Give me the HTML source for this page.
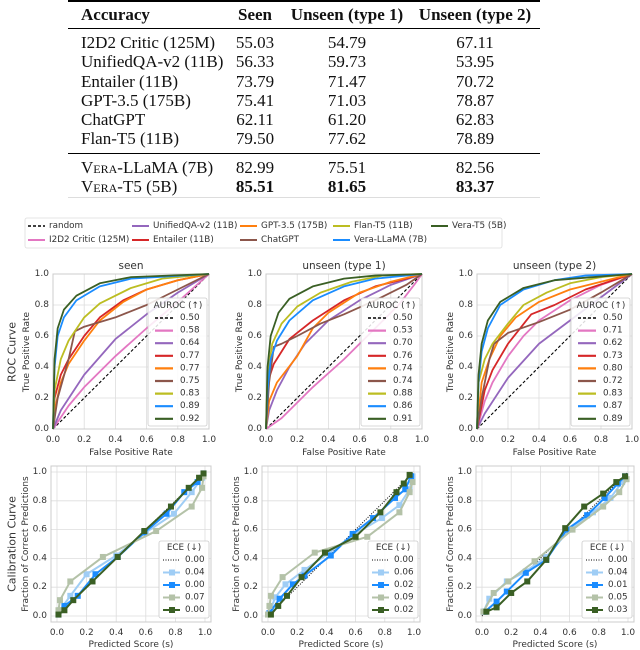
<!DOCTYPE html>
<html><head><meta charset="utf-8">
<style>
body{margin:0;background:#fff;width:640px;height:650px;overflow:hidden;position:relative;font-family:"Liberation Serif",serif;}
#tbl{position:absolute;left:0;top:0;width:640px;height:205px;}
.t{position:absolute;font-size:17px;color:#111;white-space:nowrap;line-height:17px;}
.rule{position:absolute;left:68px;width:472px;background:#000;}
.sc{font-variant:small-caps;}
svg{position:absolute;left:0;top:0;}
</style></head><body>
<div id="tbl">
<div class="rule" style="top:0px;height:2px"></div>
<div class="rule" style="top:28px;height:1px"></div>
<div class="rule" style="top:153px;height:1px"></div>
<div class="rule" style="top:197px;height:1px;background:#ddd"></div>
</div>
<svg id="fig" width="640" height="650"></svg>
<script>
// ---- table data ----
const tblModels=["I2D2 Critic (125M)","UnifiedQA-v2 (11B)","Entailer (11B)","GPT-3.5 (175B)","ChatGPT","Flan-T5 (11B)","VERA-LLaMA (7B)","VERA-T5 (5B)"];
const tblSeen=["55.03","56.33","73.79","75.41","62.11","79.50","82.99","85.51"];
const tblUn1=["54.79","59.73","71.47","71.03","61.20","77.62","75.51","81.65"];
const tblUn2=["67.11","53.95","70.72","78.87","62.83","78.89","82.56","83.37"];
const tblHead=["Accuracy","Seen","Unseen (type 1)","Unseen (type 2)"];

const tbl=document.getElementById('tbl');
function cell(txt,x,y,align,bold,name){
  const d=document.createElement('div');d.className='t';
  
  
  if(txt.startsWith('VERA')){d.innerHTML='<span class="sc">Vera</span>'+txt.slice(4);}else d.textContent=txt;
  d.style.top=(y-9)+'px';
  if(bold)d.style.fontWeight='bold';
  if(align==='c'){d.style.left=x+'px';d.style.transform='translateX(-50%)';}else d.style.left=x+'px';
  tbl.appendChild(d);
}
const colX=[81,255,347,475];
tblHead.forEach((h,i)=>cell(h,colX[i],15,i?'c':'l',true,'table-header-'+i));
const rowY=[43,62,82,101,120,139,168,187];
tblModels.forEach((m,i)=>{
  const last=i===7;
  cell(m,81,rowY[i],'l',false,'table-row-label');
  cell(tblSeen[i],255,rowY[i],'c',last,'table-seen-value');
  cell(tblUn1[i],347,rowY[i],'c',last,'table-unseen1-value');
  cell(tblUn2[i],475,rowY[i],'c',last,'table-unseen2-value');
});

// ---- chart data ----
const seriesNames=["random","I2D2 Critic (125M)","UnifiedQA-v2 (11B)","Entailer (11B)","GPT-3.5 (175B)","ChatGPT","Flan-T5 (11B)","Vera-LLaMA (7B)","Vera-T5 (5B)"];
const seriesColors=["#000","#e377c2","#9467bd","#d62728","#ff7f0e","#8c564b","#bcbd22","#1a8cff","#3a5f24"];
const panelTitles=["seen","unseen (type 1)","unseen (type 2)"];
const aurocSeen=["0.50","0.58","0.64","0.77","0.77","0.75","0.83","0.89","0.92"];
const aurocUn1=["0.50","0.53","0.70","0.76","0.74","0.74","0.88","0.86","0.91"];
const aurocUn2=["0.50","0.71","0.62","0.73","0.80","0.72","0.83","0.87","0.89"];
const rocSeen=[
 [[0,0],[1,1]],
 [[0,0],[0.1,0.15],[0.2,0.27],[0.4,0.47],[0.6,0.65],[0.8,0.82],[1,1]],
 [[0,0],[0.05,0.12],[0.2,0.35],[0.4,0.58],[0.6,0.74],[0.8,0.88],[1,1]],
 [[0,0],[0.01,0.2],[0.05,0.35],[0.1,0.45],[0.2,0.6],[0.3,0.72],[0.45,0.83],[0.6,0.9],[0.8,0.96],[1,1]],
 [[0,0],[0.01,0.12],[0.05,0.3],[0.1,0.42],[0.2,0.57],[0.3,0.7],[0.45,0.82],[0.6,0.9],[0.8,0.96],[1,1]],
 [[0,0],[0.03,0.2],[0.1,0.45],[0.14,0.63],[0.2,0.66],[0.4,0.72],[0.6,0.8],[0.8,0.9],[1,1]],
 [[0,0],[0.01,0.25],[0.05,0.45],[0.1,0.57],[0.2,0.72],[0.3,0.81],[0.5,0.91],[0.7,0.97],[1,1]],
 [[0,0],[0.01,0.4],[0.03,0.6],[0.07,0.72],[0.15,0.83],[0.3,0.92],[0.5,0.97],[1,1]],
 [[0,0],[0.01,0.45],[0.03,0.65],[0.07,0.77],[0.15,0.86],[0.3,0.94],[0.5,0.98],[1,1]]
];
const rocUn1=[
 [[0,0],[1,1]],
 [[0,0],[0.1,0.07],[0.2,0.17],[0.3,0.27],[0.5,0.45],[0.7,0.65],[0.85,0.8],[0.95,0.93],[1,1]],
 [[0,0],[0.02,0.12],[0.07,0.25],[0.15,0.4],[0.25,0.55],[0.4,0.7],[0.6,0.83],[0.8,0.93],[1,1]],
 [[0,0],[0.01,0.3],[0.05,0.42],[0.15,0.58],[0.3,0.7],[0.5,0.83],[0.7,0.92],[0.9,0.97],[1,1]],
 [[0,0],[0.02,0.18],[0.07,0.3],[0.2,0.47],[0.3,0.65],[0.4,0.75],[0.6,0.88],[0.8,0.95],[1,1]],
 [[0,0],[0.02,0.3],[0.05,0.53],[0.1,0.55],[0.2,0.6],[0.35,0.68],[0.5,0.74],[0.7,0.83],[0.9,0.93],[1,1]],
 [[0,0],[0.01,0.35],[0.04,0.55],[0.1,0.68],[0.2,0.79],[0.35,0.88],[0.55,0.95],[0.75,0.99],[1,1]],
 [[0,0],[0.01,0.25],[0.03,0.45],[0.07,0.57],[0.15,0.7],[0.3,0.83],[0.5,0.92],[0.7,0.97],[1,1]],
 [[0,0],[0.01,0.4],[0.03,0.6],[0.08,0.75],[0.15,0.84],[0.3,0.92],[0.5,0.97],[0.7,0.99],[1,1]]
];
const rocUn2=[
 [[0,0],[1,1]],
 [[0,0],[0.05,0.18],[0.1,0.3],[0.2,0.47],[0.3,0.6],[0.4,0.7],[0.6,0.83],[0.8,0.93],[1,1]],
 [[0,0],[0.05,0.1],[0.2,0.33],[0.4,0.55],[0.6,0.7],[0.8,0.85],[1,1]],
 [[0,0],[0.05,0.25],[0.1,0.38],[0.2,0.55],[0.35,0.74],[0.5,0.8],[0.7,0.9],[1,1]],
 [[0,0],[0.03,0.3],[0.08,0.45],[0.15,0.6],[0.25,0.72],[0.4,0.82],[0.6,0.9],[1,1]],
 [[0,0],[0.03,0.2],[0.08,0.45],[0.11,0.55],[0.2,0.62],[0.4,0.69],[0.6,0.77],[0.8,0.88],[1,1]],
 [[0,0],[0.01,0.3],[0.05,0.45],[0.1,0.55],[0.2,0.68],[0.3,0.8],[0.45,0.88],[0.6,0.94],[0.8,0.98],[1,1]],
 [[0,0],[0.01,0.3],[0.03,0.5],[0.07,0.65],[0.15,0.8],[0.3,0.9],[0.5,0.96],[0.7,0.99],[1,1]],
 [[0,0],[0.01,0.35],[0.03,0.55],[0.07,0.7],[0.15,0.82],[0.3,0.91],[0.5,0.96],[1,1]]
];
const calNames=["perfect","Vera-LLaMA uncalibrated","Vera-LLaMA calibrated","Vera-T5 uncalibrated","Vera-T5 calibrated"];
const calColors=["#000","#9fcdf5","#1a8cff","#b4c2a8","#3a5f24"];
const eceSeen=["0.00","0.04","0.00","0.07","0.00"];
const eceUn1=["0.00","0.06","0.02","0.09","0.02"];
const eceUn2=["0.00","0.04","0.01","0.05","0.03"];
const calSeen=[
 [[0,0],[1,1]],
 [[0.02,0.04],[0.09,0.14],[0.2,0.29],[0.4,0.42],[0.6,0.58],[0.79,0.71],[0.91,0.86],[0.98,0.96]],
 [[0.01,0.01],[0.05,0.07],[0.14,0.14],[0.26,0.29],[0.41,0.41],[0.59,0.58],[0.74,0.71],[0.86,0.86],[0.95,0.93],[0.99,0.99]],
 [[0.01,0.04],[0.02,0.11],[0.09,0.24],[0.31,0.41],[0.67,0.59],[0.91,0.76],[0.98,0.89],[0.99,0.97]],
 [[0.01,0.01],[0.05,0.04],[0.11,0.11],[0.24,0.24],[0.41,0.41],[0.59,0.59],[0.77,0.76],[0.89,0.89],[0.96,0.96],[0.99,0.99]]
];
const calUn1=[
 [[0,0],[1,1]],
 [[0.02,0.05],[0.05,0.13],[0.12,0.22],[0.25,0.32],[0.42,0.44],[0.58,0.56],[0.78,0.68],[0.9,0.77],[0.97,0.88],[0.99,0.97]],
 [[0.01,0.02],[0.08,0.12],[0.17,0.22],[0.25,0.28],[0.43,0.42],[0.58,0.57],[0.72,0.68],[0.87,0.82],[0.94,0.88],[0.98,0.97]],
 [[0.0,0.01],[0.01,0.07],[0.02,0.14],[0.1,0.27],[0.32,0.44],[0.68,0.55],[0.9,0.72],[0.97,0.86],[0.99,0.93]],
 [[0.02,0.01],[0.07,0.07],[0.13,0.14],[0.23,0.27],[0.39,0.44],[0.6,0.55],[0.77,0.72],[0.88,0.86],[0.93,0.92],[0.97,0.98]]
];
const calUn2=[
 [[0,0],[1,1]],
 [[0.01,0.03],[0.05,0.12],[0.17,0.24],[0.3,0.31],[0.44,0.41],[0.6,0.6],[0.76,0.72],[0.88,0.82],[0.96,0.93]],
 [[0.02,0.03],[0.1,0.1],[0.17,0.17],[0.3,0.3],[0.44,0.39],[0.58,0.6],[0.72,0.7],[0.84,0.82],[0.93,0.92],[0.98,0.97]],
 [[0.01,0.03],[0.08,0.16],[0.18,0.24],[0.36,0.38],[0.62,0.6],[0.83,0.76],[0.94,0.86],[0.99,0.95]],
 [[0.03,0.03],[0.1,0.06],[0.2,0.16],[0.31,0.24],[0.44,0.39],[0.57,0.61],[0.7,0.76],[0.83,0.85],[0.92,0.93],[0.98,0.97]]
];
const tickLabels=["0.0","0.2","0.4","0.6","0.8","1.0"];
const tickVals=[0,0.2,0.4,0.6,0.8,1.0];

const NS="http://www.w3.org/2000/svg";
const svg=document.getElementById('fig');
const F='"DejaVu Sans","Liberation Sans",sans-serif';
function el(tag,attrs,parent){const e=document.createElementNS(NS,tag);for(const k in attrs)e.setAttribute(k,attrs[k]);(parent||svg).appendChild(e);return e;}
function txt(s,x,y,size,anchor,parent,rot){const t=el('text',{x:x,y:y,'font-size':size,'font-family':F,fill:'#333','text-anchor':anchor||'middle','dominant-baseline':'central'},parent);if(rot)t.setAttribute('transform',`rotate(-90 ${x} ${y})`);t.textContent=s;return t;}

// legend
const lg=el('g',{});


el('rect',{x:25,y:218,width:477,height:30,fill:'#fff',stroke:'#ddd','stroke-width':0.8,rx:2},lg);
const legPos=[[28,226],[28,240],[132,226],[132,240],[240,226],[240,240],[333,226],[333,240],[431,226]];
seriesNames.forEach((n,i)=>{
  const [x,y]=legPos[i];
  const g=el('g',{},lg);
  
  
  const ln=el('line',{x1:x,y1:y,x2:x+17,y2:y,stroke:seriesColors[i],'stroke-width':i?2:1.5},g);
  if(i===0)ln.setAttribute('stroke-dasharray','3,2');
  txt(n,x+21,y,8.8,'start',g);
});

function axes(g,x0,x1,yTop,yBot,pad){
  const sx=v=>x0+pad+(x1-x0-2*pad)*v, sy=v=>yBot-pad-(yBot-yTop-2*pad)*v;
  el('rect',{x:x0,y:yTop,width:x1-x0,height:yBot-yTop,fill:'#fff',stroke:'#ccc','stroke-width':1},g);
  tickVals.forEach((v,i)=>{
    el('line',{x1:sx(v),y1:yTop,x2:sx(v),y2:yBot,stroke:'#ddd','stroke-width':0.8},g);
    el('line',{x1:x0,y1:sy(v),x2:x1,y2:sy(v),stroke:'#ddd','stroke-width':0.8},g);
    const tx=txt(tickLabels[i],sx(v),yBot+11,9,'middle',g);
    
    const ty=txt(tickLabels[i],x0-4,sy(v),9,'end',g);
    
  });
  el('rect',{x:x0,y:yTop,width:x1-x0,height:yBot-yTop,fill:'none',stroke:'#ccc','stroke-width':1},g);
  return [sx,sy];
}

const rocData=[rocSeen,rocUn1,rocUn2], aurocData=[aurocSeen,aurocUn1,aurocUn2];
const rocX=[[53,209],[266,422],[477,632]];
rocX.forEach(([x0,x1],p)=>{
  const g=el('g',{});
  
  
  const [sx,sy]=axes(g,x0,x1,274,429,0);
  const t=txt(panelTitles[p],(x0+x1)/2,266,10.5,'middle',g);
  
  txt('False Positive Rate',(x0+x1)/2,453,9,'middle',g);
  txt('True Positive Rate',x0-26,352,9,'middle',g,true);
  rocData[p].forEach((pts,i)=>{
    const pl=el('polyline',{points:pts.map(q=>sx(q[0])+','+sy(q[1])).join(' '),fill:'none',stroke:seriesColors[i],'stroke-width':i?1.8:1.1,'stroke-linejoin':'round'},g);
    
    
    if(i===0)pl.setAttribute('stroke-dasharray','3,2');
  });
  const bx=x1-61;
  const lgb=el('g',{},g);
  
  
  el('rect',{x:bx,y:298,width:59,height:128,fill:'#fff','fill-opacity':0.85,stroke:'#ccc','stroke-width':0.8,rx:2},lgb);
  txt('AUROC (↑)',bx+30,306,8.8,'middle',lgb);
  aurocData[p].forEach((v,i)=>{
    const y=318+i*12.6;
    const ln=el('line',{x1:bx+7,y1:y,x2:bx+25,y2:y,stroke:seriesColors[i],'stroke-width':i?2.2:1.5},lgb);
    if(i===0)ln.setAttribute('stroke-dasharray','3,2');
    txt(v,bx+32,y,8.8,'start',lgb);
  });
});
txt('ROC Curve',12,352,11,'middle',svg,true);

const calData=[calSeen,calUn1,calUn2], eceData=[eceSeen,eceUn1,eceUn2];
const calX=[[51,211],[262,420],[476,634]];
calX.forEach(([x0,x1],p)=>{
  const g=el('g',{});
  
  
  const [sx,sy]=axes(g,x0,x1,466,622,6);
  txt('Predicted Score (s)',(x0+x1)/2,645,9,'middle',g);
  txt('Fraction of Correct Predictions',x0-25,544,9,'middle',g,true);
  calData[p].forEach((pts,i)=>{
    const pl=el('polyline',{points:pts.map(q=>sx(q[0])+','+sy(q[1])).join(' '),fill:'none',stroke:calColors[i],'stroke-width':i?2:1,'stroke-linejoin':'round'},g);
    
    
    if(i===0)pl.setAttribute('stroke-dasharray','1,1.5');
    if(i>0)pts.forEach(q=>{
      const m=el('rect',{x:sx(q[0])-3,y:sy(q[1])-3,width:6,height:6,fill:calColors[i]},g);
      
      
    });
  });
  const bx=x1-52;
  const lgb=el('g',{},g);
  
  
  el('rect',{x:bx,y:541,width:50,height:77,fill:'#fff','fill-opacity':0.85,stroke:'#ccc','stroke-width':0.8,rx:2},lgb);
  txt('ECE (↓)',bx+25,548,8.8,'middle',lgb);
  eceData[p].forEach((v,i)=>{
    const y=560+i*12.5;
    const ln=el('line',{x1:bx+4,y1:y,x2:bx+21,y2:y,stroke:calColors[i],'stroke-width':i?2:1},lgb);
    if(i===0)ln.setAttribute('stroke-dasharray','1,1.5');
    else el('rect',{x:bx+10,y:y-3,width:6,height:6,fill:calColors[i]},lgb);
    txt(v,bx+26,y,8.8,'start',lgb);
  });
});
txt('Calibration Curve',12,544,11,'middle',svg,true);
</script>
</body></html>
